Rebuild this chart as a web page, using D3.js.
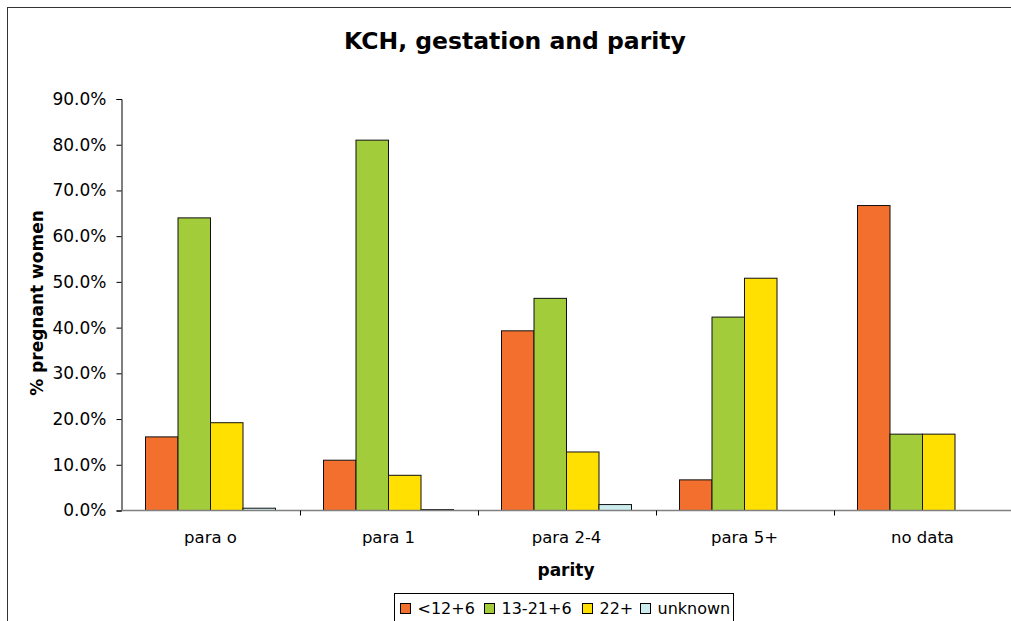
<!DOCTYPE html>
<html>
<head>
<meta charset="utf-8">
<script src="https://cdn.jsdelivr.net/npm/d3@7"></script>
<style>
  html, body { margin: 0; padding: 0; background: #fff; overflow: hidden; }
  svg { display: block; }
  text { font-family: "DejaVu Sans", Verdana, sans-serif; fill: #000; }
</style>
</head>
<body>
<svg id="chart" width="1011" height="621"></svg>
<script>
// Parity groups along the x axis
const categories = ["para o", "para 1", "para 2-4", "para 5+", "no data"];

// Gestation series (share of pregnant women, %)
const seriesNames = ["<12+6", "13-21+6", "22+", "unknown"];
const early   = [16.1, 11.0, 39.3, 6.7, 66.7];
const mid     = [64.0, 81.0, 46.4, 42.3, 16.7];
const late    = [19.2, 7.7, 12.8, 50.8, 16.7];
const unknown = [0.5, 0.2, 1.3, 0, 0];
const seriesValues = [early, mid, late, unknown];
const seriesColors = ["#F26F2D", "#A3CC3A", "#FFE000", "#CCECEE"];

// Y tick values (fractions)
const yTicks = [0, 0.1, 0.2, 0.3, 0.4, 0.5, 0.6, 0.7, 0.8, 0.9];

const svg = d3.select("#chart");

// Outer frame
svg.append("rect")
  .attr("x", 7.5).attr("y", 7.5)
  .attr("width", 1100).attr("height", 700)
  .attr("fill", "none").attr("stroke", "#333").attr("stroke-width", 1);

const plot = { left: 121.5, right: 1011.5, top: 99, bottom: 510.5 };

const x0 = d3.scaleBand().domain(categories).range([plot.left, plot.right]).padding(0);
const groupW = x0.bandwidth();
const inset = groupW * 24 / 178;
const x1 = d3.scaleBand().domain(d3.range(seriesNames.length)).range([inset, groupW - inset]).padding(0);
const y = d3.scaleLinear().domain([0, 0.9]).range([plot.bottom, plot.top]);

// Title
svg.append("text")
  .attr("x", 515).attr("y", 49)
  .attr("text-anchor", "middle")
  .style("font-size", "23.5px").style("font-weight", "bold")
  .text("KCH, gestation and parity");

// Bars
const rows = categories.map((c, i) => ({ cat: c, vals: seriesValues.map(s => s[i] / 100) }));
const groups = svg.append("g").selectAll("g").data(rows).join("g")
  .attr("transform", d => `translate(${x0(d.cat)},0)`);
groups.selectAll("rect")
  .data(d => d.vals.map((v, k) => ({ v, k })).filter(e => e.v > 0))
  .join("rect")
  .attr("x", e => x1(e.k))
  .attr("y", e => y(e.v))
  .attr("width", x1.bandwidth())
  .attr("height", e => plot.bottom - y(e.v))
  .attr("fill", e => seriesColors[e.k])
  .attr("stroke", "#111").attr("stroke-width", 1);

// Y axis
const yAxis = svg.append("g")
  .attr("transform", `translate(${plot.left},0)`)
  .call(d3.axisLeft(y).tickValues(yTicks).tickFormat(d3.format(".1%")).tickSize(5).tickPadding(10));
yAxis.select(".domain").attr("stroke", "#000");
yAxis.selectAll(".tick line").attr("stroke", "#000");
yAxis.selectAll("text").style("font-size", "17px").attr("font-family", null);

// X axis
const xAxis = svg.append("g")
  .attr("transform", `translate(0,${plot.bottom})`);
xAxis.append("line")
  .attr("x1", plot.left).attr("x2", plot.right)
  .attr("stroke", "#808080").attr("stroke-width", 1.5);
const boundaries = categories.map(c => x0(c)).concat([plot.right]);
xAxis.selectAll("line.tk").data(boundaries.slice(1)).join("line")
  .attr("class", "tk")
  .attr("x1", d => Math.round(d) + 0.5).attr("x2", d => Math.round(d) + 0.5)
  .attr("y1", 0).attr("y2", 5)
  .attr("stroke", "#000");
xAxis.selectAll("text").data(categories).join("text")
  .attr("x", d => x0(d) + groupW / 2)
  .attr("y", 32)
  .attr("text-anchor", "middle")
  .style("font-size", "16.5px")
  .text(d => d);

// Axis titles
svg.append("text")
  .attr("x", 566).attr("y", 576)
  .attr("text-anchor", "middle")
  .style("font-size", "17px").style("font-weight", "bold")
  .text("parity");
svg.append("text")
  .attr("transform", "translate(43,303) rotate(-90)")
  .attr("text-anchor", "middle")
  .style("font-size", "17px").style("font-weight", "bold")
  .text("% pregnant women");

// Legend
const legend = svg.append("g").attr("transform", "translate(394.5,593.5)");
legend.append("rect")
  .attr("width", 339).attr("height", 30)
  .attr("fill", "#fff").attr("stroke", "#000");
const legendX = [6, 90, 188, 246];
const items = legend.selectAll("g.item").data(seriesNames).join("g")
  .attr("class", "item")
  .attr("transform", (d, i) => `translate(${legendX[i]},0)`);
items.append("rect")
  .attr("x", 0).attr("y", 10).attr("width", 10).attr("height", 10)
  .attr("fill", (d, i) => seriesColors[i]).attr("stroke", "#000");
items.append("text")
  .attr("x", 17).attr("y", 20.5)
  .style("font-size", "16px")
  .text(d => d);
</script>
</body>
</html>
